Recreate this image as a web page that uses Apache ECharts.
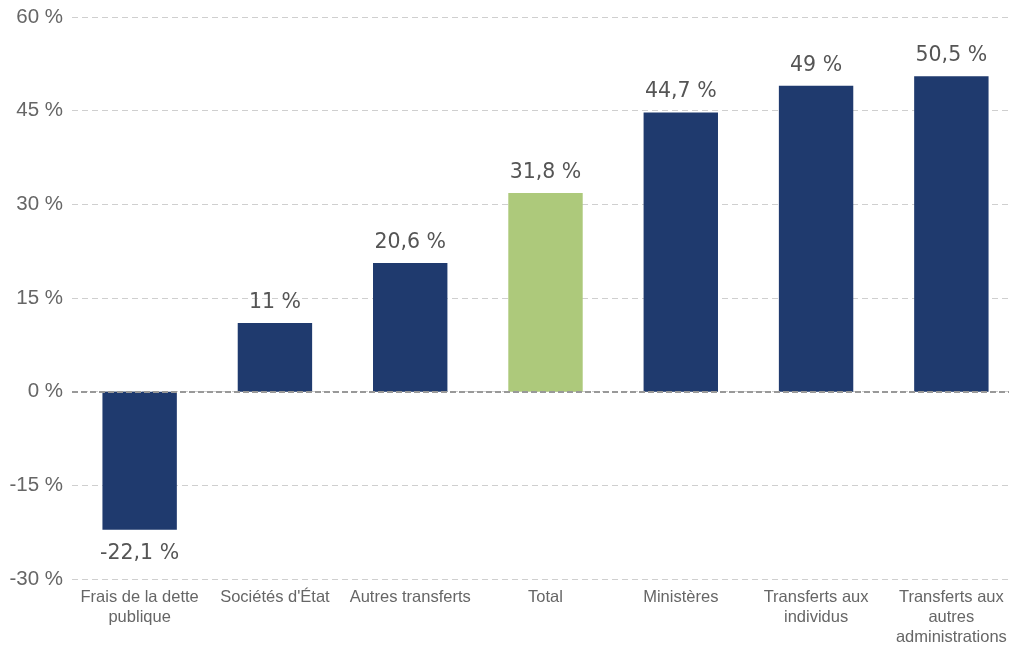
<!DOCTYPE html>
<html><head><meta charset="utf-8">
<script src="https://cdn.jsdelivr.net/npm/echarts@6/dist/echarts.min.js"></script>
<style>html,body{margin:0;padding:0;background:#fff}#c{width:1009px;height:645px}</style>
</head><body><div id="c"></div>
<script>
const categories = ["Frais de la dette\npublique", "Sociétés d'État", "Autres transferts", "Total", "Ministères", "Transferts aux\nindividus", "Transferts aux\nautres\nadministrations"];
const values = [-22.1, 11, 20.6, 31.8, 44.7, 49, 50.5];
const highlight = ["Total"];
const navy = "#1f3a6e", green = "#adc97b";
const chart = echarts.init(document.getElementById('c'));
chart.setOption({
  animation: false,
  grid: { left: 72, top: 17, right: -10, bottom: 66, containLabel: false, outerBoundsMode: 'none' },
  xAxis: {
    type: 'category', data: categories,
    axisLine: { show: false }, axisTick: { show: false },
    axisLabel: { interval: 0, margin: 8, color: '#666', fontSize: 16.5, lineHeight: 20, fontFamily: 'Liberation Sans, Arial, sans-serif' }
  },
  yAxis: {
    type: 'value', min: -30, max: 60, interval: 15,
    axisLine: { show: false }, axisTick: { show: false },
    axisLabel: { margin: 9, color: '#666', fontSize: 20.5, fontFamily: 'Liberation Sans, Arial, sans-serif', formatter: v => v + ' %' },
    splitLine: { lineStyle: { color: '#cfcfcf', type: [6, 4], width: 1 } }
  },
  series: [{
    type: 'bar', barWidth: '55%',
    data: values.map((v, i) => ({ value: v, itemStyle: { color: highlight.includes(categories[i]) ? green : navy },
      label: { position: v < 0 ? 'bottom' : 'top', distance: v < 0 ? 14 : 10 } })),
    label: { show: true, color: '#555', fontSize: 20.5, fontFamily: 'DejaVu Sans, sans-serif',
      formatter: p => String(p.value).replace('.', ',') + ' %' },
    markLine: { silent: true, symbol: 'none', label: { show: false },
      lineStyle: { color: '#999', type: [6, 3], width: 2 }, data: [{ yAxis: 0 }] }
  }]
});
</script></body></html>
